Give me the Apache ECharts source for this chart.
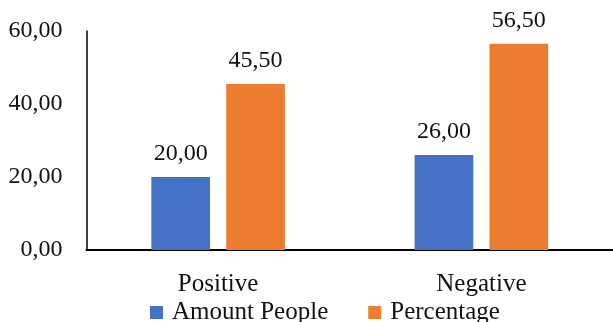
<!DOCTYPE html>
<html><head><meta charset="utf-8">
<script src="https://cdn.jsdelivr.net/npm/echarts@6/dist/echarts.min.js"></script>
<style>html,body{margin:0;padding:0;background:#fff}#c{width:613px;height:322px}</style>
</head><body><div id="c"></div>
<script>
const categories = ["Positive", "Negative"];
const seriesNames = ["Amount People", "Percentage"];
const amountPeople = [20.00, 26.00];
const percentage = [45.50, 56.50];
const yTicks = [0, 20, 40, 60];

const fmt = v => Number(v).toFixed(2).replace('.', ',');
const FONT = 'Liberation Serif';
const FS = 24;
const FSW = 25;
const chart = echarts.init(document.getElementById('c'));
chart.setOption({
  animation: false,
  textStyle: { fontFamily: FONT },
  grid: { left: 86.5, right: -4.5, top: 31, bottom: 72, containLabel: false },
  legend: {
    left: 145, top: 295, itemWidth: 13, itemHeight: 13, itemGap: 40,
    icon: 'rect',
    textStyle: { fontFamily: FONT, fontSize: FSW, color: '#111', padding: [0, 0, 0, 4] },
    data: seriesNames
  },
  xAxis: {
    type: 'category', data: categories,
    axisLine: { lineStyle: { color: '#000', width: 2 } },
    axisTick: { show: false },
    axisLabel: { fontFamily: FONT, fontSize: FSW, color: '#111', margin: 22 }
  },
  yAxis: {
    type: 'value', min: yTicks[0], max: yTicks[yTicks.length - 1], interval: 20,
    axisLine: { show: true, lineStyle: { color: '#000', width: 1.5 } },
    axisTick: { show: false },
    splitLine: { show: false },
    axisLabel: { fontFamily: FONT, fontSize: FS, color: '#111', margin: 24, formatter: fmt }
  },
  series: [
    {
      name: seriesNames[0], type: 'bar', data: amountPeople,
      barWidth: '22.3%', barGap: '27.5%',
      itemStyle: { color: '#4472C4' },
      label: { show: true, position: 'top', distance: 11, fontFamily: FONT, fontSize: FS, color: '#111', formatter: p => fmt(p.value) }
    },
    {
      name: seriesNames[1], type: 'bar', data: percentage,
      barWidth: '22.3%', barGap: '27.5%',
      itemStyle: { color: '#ED7D31' },
      label: { show: true, position: 'top', distance: 11, fontFamily: FONT, fontSize: FS, color: '#111', formatter: p => fmt(p.value) }
    }
  ]
});
</script></body></html>
